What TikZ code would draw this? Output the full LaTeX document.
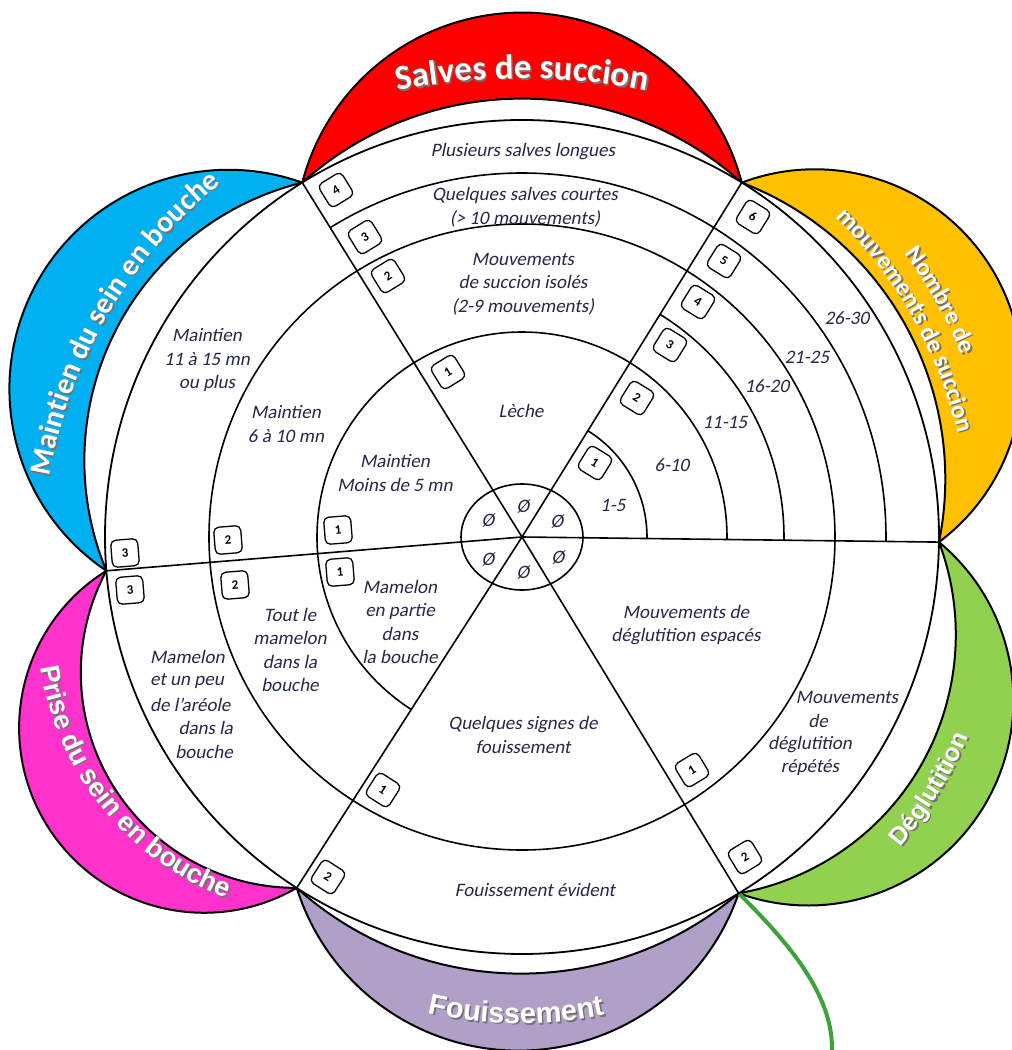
\documentclass[tikz,border=0pt]{standalone}
\usepackage{fontspec}
\setmainfont{Carlito}
\newfontfamily\carl{Carlito}[AutoFakeSlant=0.2]
\newfontfamily\libs{Liberation Sans}
\usetikzlibrary{decorations.text}
\definecolor{pRed}{RGB}{255,0,0}
\definecolor{pBlue}{RGB}{0,176,240}
\definecolor{pPink}{RGB}{255,51,204}
\definecolor{pPurple}{RGB}{176,160,200}
\definecolor{pGreen}{RGB}{146,208,80}
\definecolor{pOrange}{RGB}{255,192,0}
\definecolor{stemGreen}{RGB}{58,163,58}
\definecolor{ink}{RGB}{38,42,74}
\def\Rz{417}
\newcommand\labfont{\carl\itshape\fontsize{19}{23.5}\selectfont}
\newcommand\numfont{\carl\bfseries\fontsize{13}{13}\selectfont}
\newcommand\fRed{\carl\bfseries\fontsize{35}{35}\selectfont}
\newcommand\fBlue{\carl\bfseries\fontsize{30}{30}\selectfont}
\newcommand\fOr{\carl\bfseries\fontsize{25}{25}\selectfont}
\newcommand\fGr{\libs\bfseries\fontsize{25}{25}\selectfont}
\newcommand\fPu{\libs\bfseries\fontsize{29}{29}\selectfont}
\newcommand\fPi{\libs\bfseries\fontsize{27}{27}\selectfont}
% petal: #1 start angle, #2 end angle, #3 inner sagitta, #4 outer sagitta, #5 colour
\newcommand\petal[5]{%
  \pgfmathsetmacro\pha{(#2-#1)/2}%
  \pgfmathsetmacro\pmu{(#1+#2)/2}%
  \pgfmathsetmacro\phh{\Rz*sin(\pha)}%
  \pgfmathsetmacro\prI{\phh*(\phh/(2*#3))+#3/2}%
  \pgfmathsetmacro\prO{\phh*(\phh/(2*#4))+#4/2}%
  \pgfmathsetmacro\ppI{atan2(\phh,\prI-#3)}%
  \pgfmathsetmacro\ppO{atan2(\phh,\prO-#4)}%
  \pgfmathsetmacro\asO{\pmu-\ppO}\pgfmathsetmacro\aeO{\pmu+\ppO}%
  \pgfmathsetmacro\asI{\pmu+\ppI}\pgfmathsetmacro\aeI{\pmu-\ppI}%
  \filldraw[petal,fill=#5] (#1:\Rz) arc[start angle=\asO,end angle=\aeO,radius=\prO pt]
     arc[start angle=\asI,end angle=\aeI,radius=\prI pt] -- cycle;%
}
% text on arc: #1,#2 arc centre, #3 mid angle, #4 radius, #5 half span, #6 dir (1 ccw, -1 cw), #7 font, #8 text
\newcommand\ptext[8]{%
  \pgfmathsetmacro\tsa{#3-(#6)*(#5)}%
  \pgfmathsetmacro\tea{#3+(#6)*(#5)}%
  \foreach \sx/\sy/\tc in {1.6/-1.6/black!55,0/0/white}{%
    \path[shift={(#1,#2)},shift={(\sx,\sy)},decorate,
      decoration={text along path,text align=center,text color=\tc,text={|#7|#8}}]
      (\tsa:#4) arc[start angle=\tsa,end angle=\tea,radius=#4pt];
  }%
}
\begin{document}
\begin{tikzpicture}[x=1pt,y=1pt,line join=round,
  petal/.style={draw=black,line width=2pt},
  struct/.style={draw=black,line width=1.6pt},
  lab/.style={font=\labfont,text=ink,align=center,inner sep=0pt},
  numbox/.style={draw=black,line width=1.3pt,rounded corners=5pt,minimum size=27pt,inner sep=0pt,fill=white,font=\numfont},
  stem/.style={draw=stemGreen,line width=4pt,line cap=round}]
\useasboundingbox (-522,-513) rectangle (490,537);
\clip (-522,-513) rectangle (490,537);
\coordinate (O) at (0,0);
\coordinate (A1) at (-0.7:\Rz);
\coordinate (A2) at (58.2:\Rz);
\coordinate (A3) at (121.8:\Rz);
\coordinate (A4) at (184.65:\Rz);
\coordinate (A5) at (237.3:\Rz);
\coordinate (A6) at (301.3:\Rz);
% petals
\petal{58.2}{121.8}{84}{170}{pRed}
\petal{121.8}{184.65}{100}{192}{pBlue}
\petal{184.65}{237.3}{105}{182}{pPink}
\petal{237.3}{301.3}{83}{160}{pPurple}
\petal{-58.7}{-0.7}{95}{170}{pGreen}
\petal{-0.7}{58.2}{75}{178}{pOrange}
% stem
\coordinate (S) at (310,-513);
\draw[stem] (A6) .. controls (267,-406) and (311,-458) .. (S);
% main disc
\filldraw[struct,fill=white,line width=1.8pt] (O) circle[radius=\Rz pt];
% rings
\draw[struct] (-0.7:125) arc[start angle=-0.7,end angle=58.2,radius=125pt];
\draw[struct] (-0.7:262) arc[start angle=-0.7,end angle=58.2,radius=262pt];
\draw[struct] (-0.7:205) arc[start angle=-0.7,end angle=237.3,radius=205pt];
\draw[struct] (O) circle[radius=313pt];
\draw[struct] (-0.7:364) arc[start angle=-0.7,end angle=121.8,radius=364pt];
% sector lines
\foreach \a in {A1,A2,A3,A4,A5,A6} \draw[struct] (O) -- (\a);
\draw[struct] (O) ellipse[x radius=61pt,y radius=53pt];
% texts and boxes, in image coordinates
\begin{scope}[shift={(-522,537)}]
\node[lab] (t1) at (523,-152) {Plusieurs salves longues};
\node[lab] (t2) at (525,-207) {Quelques salves courtes\\(> 10 mouvements)};
\node[lab] (t3) at (523,-284) {Mouvements\\de succion isolés\\(2-9 mouvements)};
\node[lab] (t4) at (521,-411) {Lèche};
\node[lab] (l1) at (207,-360) {Maintien\\11 à 15 mn\\ou plus};
\node[lab] (l2) at (286,-424) {Maintien\\6 à 10 mn};
\node[lab] (l3) at (395,-473) {Maintien\\Moins de 5 mn};
\node[lab] (r1) at (613,-505) {1-5};
\node[lab] (r2) at (672,-465) {6-10};
\node[lab] (r3) at (725,-422) {11-15};
\node[lab] (r4) at (767,-386) {16-20};
\node[lab] (r5) at (807,-357) {21-25};
\node[lab] (r6) at (847,-318) {26-30};
\node[lab] (p1) at (400,-622) {Mamelon\\en partie\\dans\\la bouche};
\node[lab] (p2) at (290,-650) {Tout le\\mamelon\\dans la\\bouche};
\node[lab,anchor=west] (p3a) at (150,-657) {Mamelon};
\node[lab,anchor=west] (p3b) at (150,-681) {et un peu};
\node[lab,anchor=west] (p3c) at (150,-705) {de l’aréole};
\node[lab,anchor=east] (p3d) at (233,-728) {dans la};
\node[lab,anchor=east] (p3e) at (233,-752) {bouche};
\node[lab] (f1) at (523,-735) {Quelques signes de\\fouissement};
\node[lab] (f2) at (535,-890) {Fouissement évident};
\node[lab] (d1) at (686,-625) {Mouvements de\\déglutition espacés};
\node[lab] (d2) at (847,-697) {Mouvements};
\node[lab] (d3) at (818,-721) {de};
\node[lab] (d4) at (810,-745) {déglutition};
\node[lab] (d5) at (810,-768) {répétés};
\node[lab] (z1) at (523,-507) {Ø};
\node[lab] (z2) at (488,-521) {Ø};
\node[lab] (z3) at (557,-522) {Ø};
\node[lab] (z4) at (488,-560) {Ø};
\node[lab] (z5) at (523,-573) {Ø};
\node[lab] (z6) at (558,-558) {Ø};
% boxes
\node[numbox,rotate=31.8] (bt4) at (336,-190) {4};
\node[numbox,rotate=31.8] (bt3) at (365,-237) {3};
\node[numbox,rotate=31.8] (bt2) at (388,-276) {2};
\node[numbox,rotate=31.8] (bt1) at (448,-372) {1};
\node[numbox,rotate=-31.8] (br6) at (753,-217) {6};
\node[numbox,rotate=-31.8] (br5) at (724,-261) {5};
\node[numbox,rotate=-31.8] (br4) at (698,-302) {4};
\node[numbox,rotate=-31.8] (br3) at (670,-345) {3};
\node[numbox,rotate=-31.8] (br2) at (637,-398) {2};
\node[numbox,rotate=-31.8] (br1) at (595,-463) {1};
\node[numbox,rotate=4.65] (bm3) at (125,-553) {3};
\node[numbox,rotate=4.65] (bm2) at (228,-540) {2};
\node[numbox,rotate=4.65] (bm1) at (338,-530) {1};
\node[numbox,rotate=4.65] (bp3) at (130,-590) {3};
\node[numbox,rotate=4.65] (bp2) at (235,-585) {2};
\node[numbox,rotate=4.65] (bp1) at (340,-572) {1};
\node[numbox,rotate=-32.7] (bf1) at (383,-790) {1};
\node[numbox,rotate=-32.7] (bf2) at (328,-877) {2};
\node[numbox,rotate=31.3] (bd1) at (692,-770) {1};
\node[numbox,rotate=31.3] (bd2) at (745,-857) {2};
\end{scope}
% petal titles
\ptext{0}{-191.6}{90}{650}{30}{-1}{\fRed}{Salves de succion}
\ptext{8}{-23.8}{149.7}{488}{50}{-1}{\fBlue}{Maintien du sein en bouche}
\ptext{0}{0}{29.5}{476}{40}{-1}{\fOr}{Nombre de}
\ptext{0}{0}{29.5}{448}{40}{-1}{\fOr}{mouvements de succion}
\ptext{33.8}{-20.9}{-31.7}{450}{30}{1}{\fGr}{Déglutition}
\ptext{-0.8}{-66.6}{269.3}{420}{35}{1}{\fPu}{Fouissement}
\ptext{-190.8}{-86.4}{218.9}{294}{60}{1}{\fPi}{Prise du sein en bouche}
\end{tikzpicture}
\end{document}
